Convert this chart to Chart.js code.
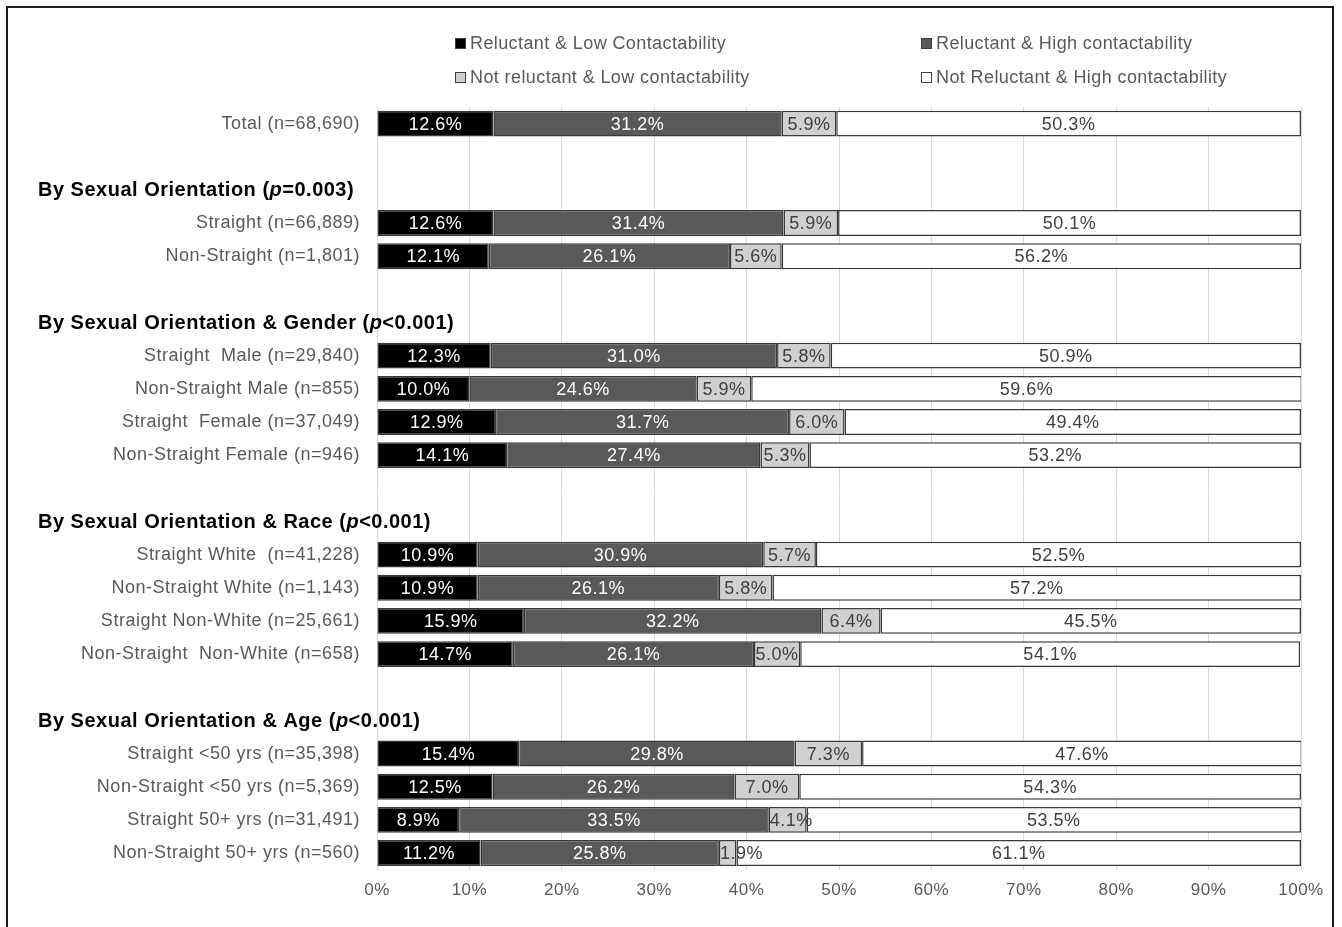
<!DOCTYPE html>
<html>
<head>
<meta charset="utf-8">
<script src="https://cdn.jsdelivr.net/npm/chart.js@4.4.1/dist/chart.umd.min.js"></script>
<style>
html, body { margin: 0; padding: 0; background: #fff; overflow: hidden; }
#frame { position: absolute; left: 6px; top: 6px; width: 1328px; height: 960px; border: 2px solid #1a1a1a; box-sizing: border-box; }
#wrap { position: absolute; left: 0; top: 0; width: 1342px; height: 927px; }
#legend { position: absolute; left: 455px; top: 33px; display: grid; grid-template-columns: 466px auto; row-gap: 14px;
  font: 18px "Liberation Sans", Arial, sans-serif; letter-spacing: 0.4px; color: #595959; }
.item { display: flex; align-items: center; height: 20px; }
.box { width: 9px; height: 9px; border: 1px solid #404040; margin-right: 4px; }
</style>
</head>
<body>
<div id="frame"></div>
<div id="wrap"><canvas id="chart" width="1342" height="927"></canvas></div>
<div id="legend"></div>
<script>
// rows of the chart, top to bottom ('' = spacer row)
const categories = [
    'Total (n=68,690)', '',
    'By Sexual Orientation (p=0.003)', 'Straight (n=66,889)', 'Non-Straight (n=1,801)', '',
    'By Sexual Orientation & Gender (p<0.001)', 'Straight  Male (n=29,840)', 'Non-Straight Male (n=855)',
    'Straight  Female (n=37,049)', 'Non-Straight Female (n=946)', '',
    'By Sexual Orientation & Race (p<0.001)', 'Straight White  (n=41,228)', 'Non-Straight White (n=1,143)',
    'Straight Non-White (n=25,661)', 'Non-Straight  Non-White (n=658)', '',
    'By Sexual Orientation & Age (p<0.001)', 'Straight <50 yrs (n=35,398)', 'Non-Straight <50 yrs (n=5,369)',
    'Straight 50+ yrs (n=31,491)', 'Non-Straight 50+ yrs (n=560)'
];
const headerRows = [2, 6, 12, 18];

const seriesNames = ['Reluctant & Low Contactability', 'Reluctant & High contactability',
    'Not reluctant & Low contactability', 'Not Reluctant & High contactability'];

const reluctantLow = [12.6, null, null, 12.6, 12.1, null, null, 12.3, 10.0, 12.9, 14.1, null, null, 10.9, 10.9, 15.9, 14.7, null, null, 15.4, 12.5, 8.9, 11.2];
const reluctantHigh = [31.2, null, null, 31.4, 26.1, null, null, 31.0, 24.6, 31.7, 27.4, null, null, 30.9, 26.1, 32.2, 26.1, null, null, 29.8, 26.2, 33.5, 25.8];
const notReluctantLow = [5.9, null, null, 5.9, 5.6, null, null, 5.8, 5.9, 6.0, 5.3, null, null, 5.7, 5.8, 6.4, 5.0, null, null, 7.3, 7.0, 4.1, 1.9];
const notReluctantHigh = [50.3, null, null, 50.1, 56.2, null, null, 50.9, 59.6, 49.4, 53.2, null, null, 52.5, 57.2, 45.5, 54.1, null, null, 47.6, 54.3, 53.5, 61.1];

const fills = ['#000000', '#595959', '#d0d0d0', '#ffffff'];
const labelColors = ['#ffffff', '#ffffff', '#404040', '#404040'];
const FONT = '"Liberation Sans", Arial, sans-serif';

// split header text so the p can be italic
function headerParts(text) {
    const k = text.indexOf('(p');
    return [
        { t: text.slice(0, k + 1), italic: false },
        { t: 'p', italic: true },
        { t: text.slice(k + 2), italic: false }
    ];
}

const segLabels = {
    id: 'segLabels',
    beforeDraw(chart) {
        chart.ctx.letterSpacing = '0.5px'; // the original text is set a little loose
    },
    afterDatasetsDraw(chart) {
        const ctx = chart.ctx;
        ctx.save();
        ctx.font = '18px ' + FONT;
        ctx.textBaseline = 'middle';
        chart.data.datasets.forEach((ds, i) => {
            chart.getDatasetMeta(i).data.forEach((bar, j) => {
                const v = ds.data[j];
                if (v == null) return;
                const txt = v.toFixed(1) + '%';
                const p = bar.getCenterPoint();
                const left = Math.min(bar.x, bar.base);
                const w = Math.abs(bar.x - bar.base);
                ctx.fillStyle = labelColors[i];
                // too narrow: start the label at the segment's left edge
                if (ctx.measureText(txt).width > w - 2) {
                    ctx.textAlign = 'left';
                    ctx.fillText(txt, left + 1, p.y + 1);
                } else {
                    ctx.textAlign = 'center';
                    ctx.fillText(txt, p.x, p.y + 1);
                }
            });
        });
        ctx.restore();
    },
    afterDraw(chart) {
        const ctx = chart.ctx;
        const y = chart.scales.y;
        ctx.save();
        ctx.textAlign = 'left';
        ctx.textBaseline = 'middle';
        ctx.fillStyle = '#000';
        headerRows.forEach(i => {
            let x = 38;
            const py = y.getPixelForValue(i) + 1;
            headerParts(categories[i]).forEach(part => {
                ctx.font = (part.italic ? 'italic ' : '') + 'bold 20px ' + FONT;
                ctx.fillText(part.t, x, py);
                x += ctx.measureText(part.t).width;
            });
        });
        ctx.restore();
    }
};

const ctx = document.getElementById('chart').getContext('2d');
const chart = new Chart(ctx, {
    type: 'bar',
    data: {
        labels: categories,
        datasets: [reluctantLow, reluctantHigh, notReluctantLow, notReluctantHigh].map((d, i) => ({
            label: seriesNames[i],
            data: d,
            backgroundColor: fills[i],
            borderColor: '#3a3a3a',
            borderWidth: 1.5,
            borderSkipped: false,
            categoryPercentage: 1,
            barPercentage: 0.78
        }))
    },
    options: {
        indexAxis: 'y',
        responsive: false,
        animation: false,
        layout: { padding: { top: 107, right: 41, bottom: 15, left: 0 } },
        plugins: { legend: { display: false }, tooltip: { enabled: false } },
        scales: {
            x: {
                stacked: true,
                min: 0,
                max: 100,
                ticks: { stepSize: 10, callback: v => v + '%', color: '#595959', font: { family: FONT, size: 17 }, padding: 11 },
                grid: { color: '#d9d9d9', drawTicks: false },
                border: { display: false }
            },
            y: {
                stacked: true,
                grid: { display: false },
                border: { display: false },
                ticks: {
                    autoSkip: false,
                    color: '#595959',
                    font: { family: FONT, size: 18 },
                    padding: 9,
                    callback: (v, i) => headerRows.includes(i) ? '' : categories[i]
                },
                afterFit: s => { s.width = 377; }
            }
        }
    },
    plugins: [segLabels]
});

// legend in two columns, like the original
const legend = document.getElementById('legend');
[0, 1, 2, 3].forEach(i => {
    const item = document.createElement('div');
    item.className = 'item';
    item.innerHTML = '<span class="box" style="background:' + fills[i] + '"></span>' + seriesNames[i].replace(/&/g, '&amp;');
    legend.appendChild(item);
});
</script>
</body>
</html>
